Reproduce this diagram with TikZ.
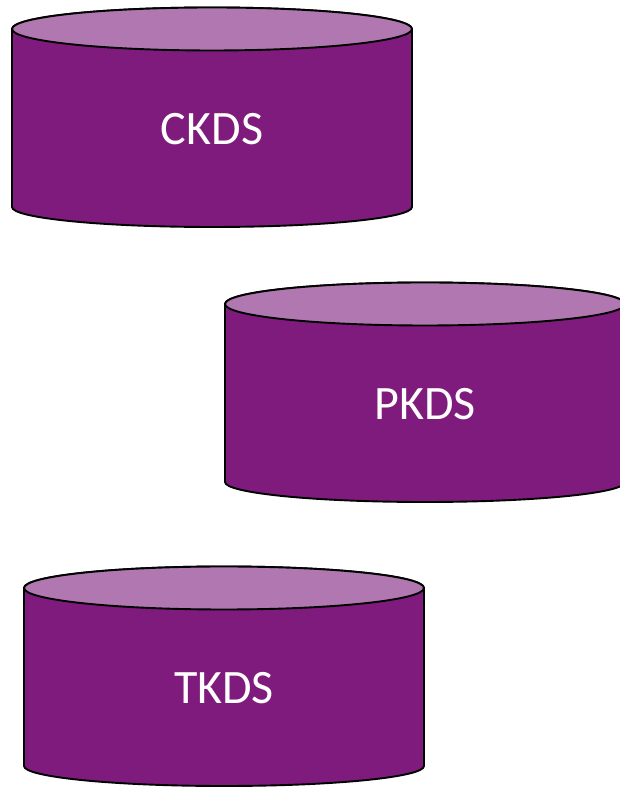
\documentclass[tikz,border=0pt]{standalone}
\usepackage{fontspec}
\setmainfont{Carlito}
\definecolor{drumside}{RGB}{127,27,124}
\definecolor{drumtop}{RGB}{176,119,176}
\tikzset{
  x=1pt, y=1pt,
  drumline/.style={draw=black, line width=1.9pt, line join=round},
  drumlabel/.style={text=white, font=\fontsize{48}{58}\selectfont, inner sep=0pt},
  % storage drum: origin at the centre of the top ellipse
  pics/drum/.style={
    code={
      \path[drumline, fill=drumside]
        (-200,0) -- (-200,-178)
        arc[start angle=180, end angle=360, x radius=200, y radius=20]
        -- (200,0)
        arc[start angle=0, end angle=180, x radius=200, y radius=21.5] -- cycle;
      \path[drumline, fill=drumtop] (0,0) ellipse[x radius=200, y radius=21.5];
      \node[drumlabel] (-label) at (0,-100) {#1};
    }
  }
}
\begin{document}
\begin{tikzpicture}
  \useasboundingbox (0,0) rectangle (620,787);
  \fill[white] (0,0) rectangle (620,787);
  \pic (ckds) at (212,758) {drum=CKDS};
  \pic (pkds) at (425,483) {drum=PKDS};
  \pic (tkds) at (224,199) {drum=TKDS};
\end{tikzpicture}
\end{document}
